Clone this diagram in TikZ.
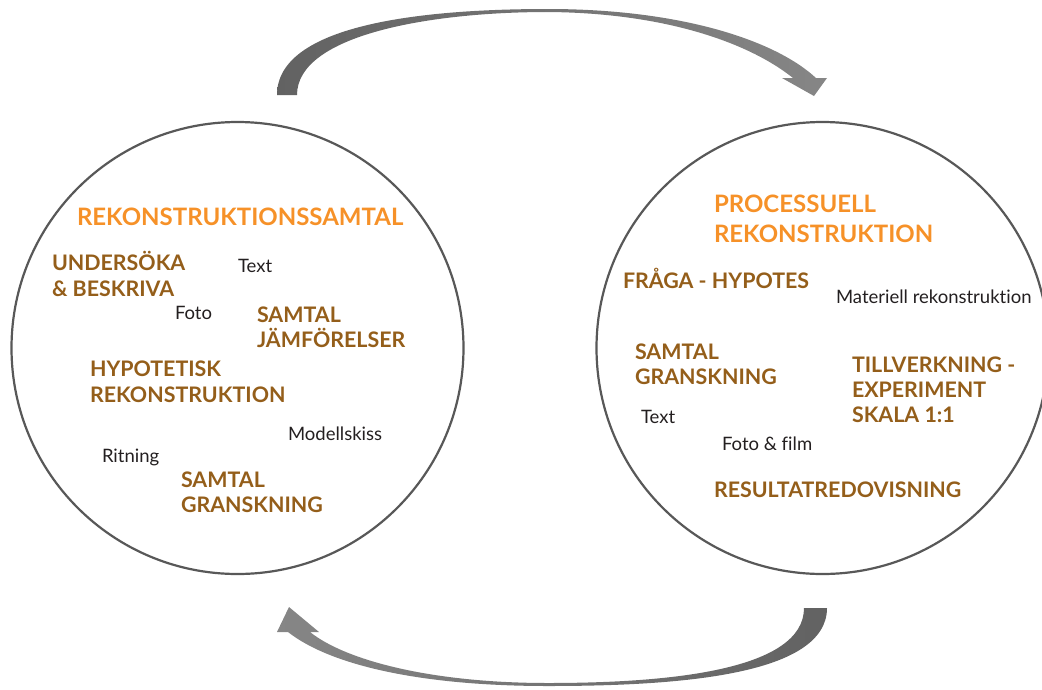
\documentclass[tikz,border=0pt]{standalone}
\usepackage{fontspec}
\setmainfont{Lato}[Ligatures=NoCommon]
\definecolor{orangeC}{RGB}{246,145,40}
\definecolor{brownC}{RGB}{148,94,26}
\definecolor{textC}{RGB}{35,31,32}
\definecolor{ringC}{RGB}{88,88,88}
\definecolor{arrDark}{RGB}{98,98,98}
\definecolor{arrLight}{RGB}{134,134,134}
\newcommand\twoln[3]{\vtop{\baselineskip=#1\relax\hbox{#2}\hbox{#3}}}
\newcommand\threeln[4]{\vtop{\baselineskip=#1\relax\hbox{#2}\hbox{#3}\hbox{#4}}}
\begin{document}
\begin{tikzpicture}[x=1pt,y=-1pt,
  lbl/.style={anchor=base west, inner sep=0pt, outer sep=0pt},
  ttl/.style={lbl, text=orangeC, font=\bfseries\fontsize{24}{30}\selectfont},
  key/.style={lbl, text=brownC, font=\bfseries\fontsize{21.4}{25}\selectfont},
  note/.style={lbl, text=textC, font=\fontsize{18.5}{23}\selectfont},
  ring/.style={circle, draw=ringC, line width=2.2pt, minimum size=452pt, inner sep=0pt}]
\useasboundingbox (0,0) rectangle (1042,689);
\clip (0,0) rectangle (1042,689);

% circles
\node[ring] (cl) at (237.5,348) {};
\node[ring] (cr) at (822.5,348) {};

% top arrow
\shade[left color=arrDark, right color=arrLight]
  (277,95) .. controls (277,25) and (420,9) .. (548,9)
  .. controls (680,9) and (775,40) .. (816,78)
  -- (827,78) -- (814,96) -- (782,78) -- (793,78)
  .. controls (752,45) and (670,13) .. (548,12)
  .. controls (430,12) and (297,35) .. (297,95) -- cycle;

% bottom arrow
\shade[left color=arrLight, right color=arrDark]
  (827,608) .. controls (827,675) and (680,686) .. (548,686)
  .. controls (420,686) and (330,665) .. (288,632)
  -- (277,632) -- (289,607) -- (319,632) -- (310,632)
  .. controls (345,660) and (430,683) .. (548,683)
  .. controls (670,683) and (804,670) .. (804,608) -- cycle;

% left circle texts
\node[ttl] (l1) at (77,225) {REKONSTRUKTIONSSAMTAL};
\node[key] (l2) at (52,270) {\twoln{26pt}{UNDERSÖKA}{\& BESKRIVA}};
\node[note] (l3) at (238,272) {Text};
\node[note] (l4) at (175,319) {Foto};
\node[key] (l5) at (257,322) {\twoln{25pt}{SAMTAL}{JÄMFÖRELSER}};
\node[key] (l6) at (90,376) {\twoln{26pt}{HYPOTETISK}{REKONSTRUKTION}};
\node[note] (l7) at (288,440) {Modellskiss};
\node[note] (l8) at (102,462) {Ritning};
\node[key] (l9) at (181,487) {\twoln{25pt}{SAMTAL}{GRANSKNING}};

% right circle texts
\node[ttl] (r1) at (714,212) {\twoln{30pt}{PROCESSUELL}{REKONSTRUKTION}};
\node[key] (r2) at (623,288) {FRÅGA - HYPOTES};
\node[note] (r3) at (836,303) {Materiell rekonstruktion};
\node[key] (r4) at (635,359) {\twoln{25pt}{SAMTAL}{GRANSKNING}};
\node[key] (r5) at (852,372) {\threeln{25pt}{TILLVERKNING -}{EXPERIMENT}{SKALA 1:1}};
\node[note] (r6) at (641,423) {Text};
\node[note] (r7) at (722,450) {Foto \& film};
\node[key] (r8) at (714,497) {RESULTATREDOVISNING};
\end{tikzpicture}
\end{document}
